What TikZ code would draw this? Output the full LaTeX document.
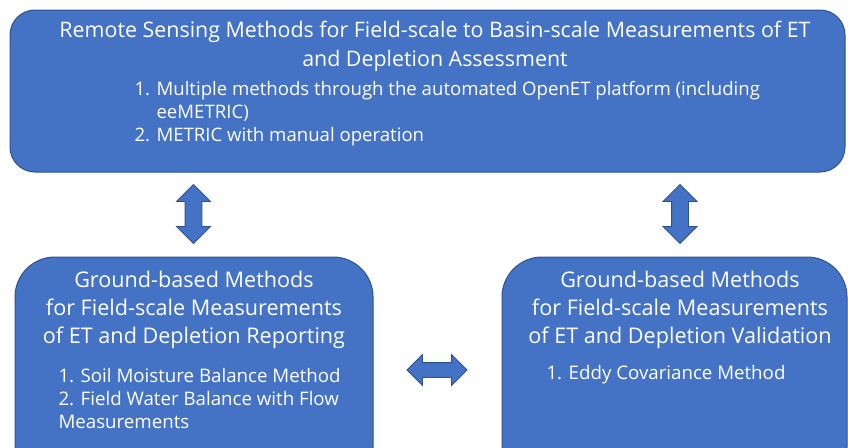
\documentclass[tikz,border=0pt]{standalone}
\usepackage{fontspec}
\setmainfont{Open Sans}
\usetikzlibrary{positioning,shapes.arrows}
\definecolor{boxblue}{HTML}{4472C4}
\definecolor{boxedge}{HTML}{2F528F}

\begin{document}
\begin{tikzpicture}[x=1pt,y=-1pt,
  every node/.style={text=white},
  panel/.style={draw=boxedge, fill=boxblue, line width=1pt, inner sep=0pt},
  dblarr/.style={shape=double arrow, draw=boxedge, fill=boxblue, line width=0.8pt,
                 inner xsep=0pt, inner ysep=8pt, minimum height=59pt,
                 double arrow head extend=8.5pt},
  title/.style={align=center, font=\fontsize{21.6}{28}\selectfont},
  items/.style={align=left, anchor=north west, font=\fontsize{18.7}{23}\selectfont},
]
\useasboundingbox (0,0) rectangle (848,447);
\clip (0,0) rectangle (848,447);
% ---- panels ----
\node[panel, rounded corners=25pt, minimum width=835pt, minimum height=162pt]
     at (427.5,91) (remote) {};
\node[panel, rounded corners=40pt, minimum width=358pt, minimum height=230pt]
     at (194,372) (report) {};
\node[panel, rounded corners=40pt, minimum width=345pt, minimum height=230pt]
     at (674.5,372) (valid) {};
% ---- panel texts ----
\node[title, font=\fontsize{21.4}{29}\selectfont] at (435,46) (remotetitle)
     {Remote Sensing Methods for Field-scale to Basin-scale Measurements of ET\\and Depletion Assessment};
\node[items, font=\fontsize{18.6}{23}\selectfont] at (131,78) (remoteitems)
     {1. Multiple methods through the automated OpenET platform (including\\
      \hphantom{1. }eeMETRIC)\\
      2. METRIC with manual operation};
\node[title] at (194,310) (reporttitle)
     {Ground-based Methods\\for Field-scale Measurements\\of ET and Depletion Reporting};
\node[items] at (55,365) (reportitems)
     {1. Soil Moisture Balance Method\\
      2. Field Water Balance with Flow\\
      Measurements};
\node[title] at (680,310) (validtitle)
     {Ground-based Methods\\for Field-scale Measurements\\of ET and Depletion Validation};
\node[items] at (543,362) (validitems) {1. Eddy Covariance Method};
% ---- two-way arrows between panels ----
\node[dblarr, rotate=90] at (193.5,214) (arrleft) {};
\node[dblarr, rotate=90] at (680,214) (arrright) {};
\node[dblarr, inner ysep=7pt, minimum height=60pt, double arrow head extend=8pt]
     at (437,370) (arrmid) {};
\end{tikzpicture}
\end{document}
